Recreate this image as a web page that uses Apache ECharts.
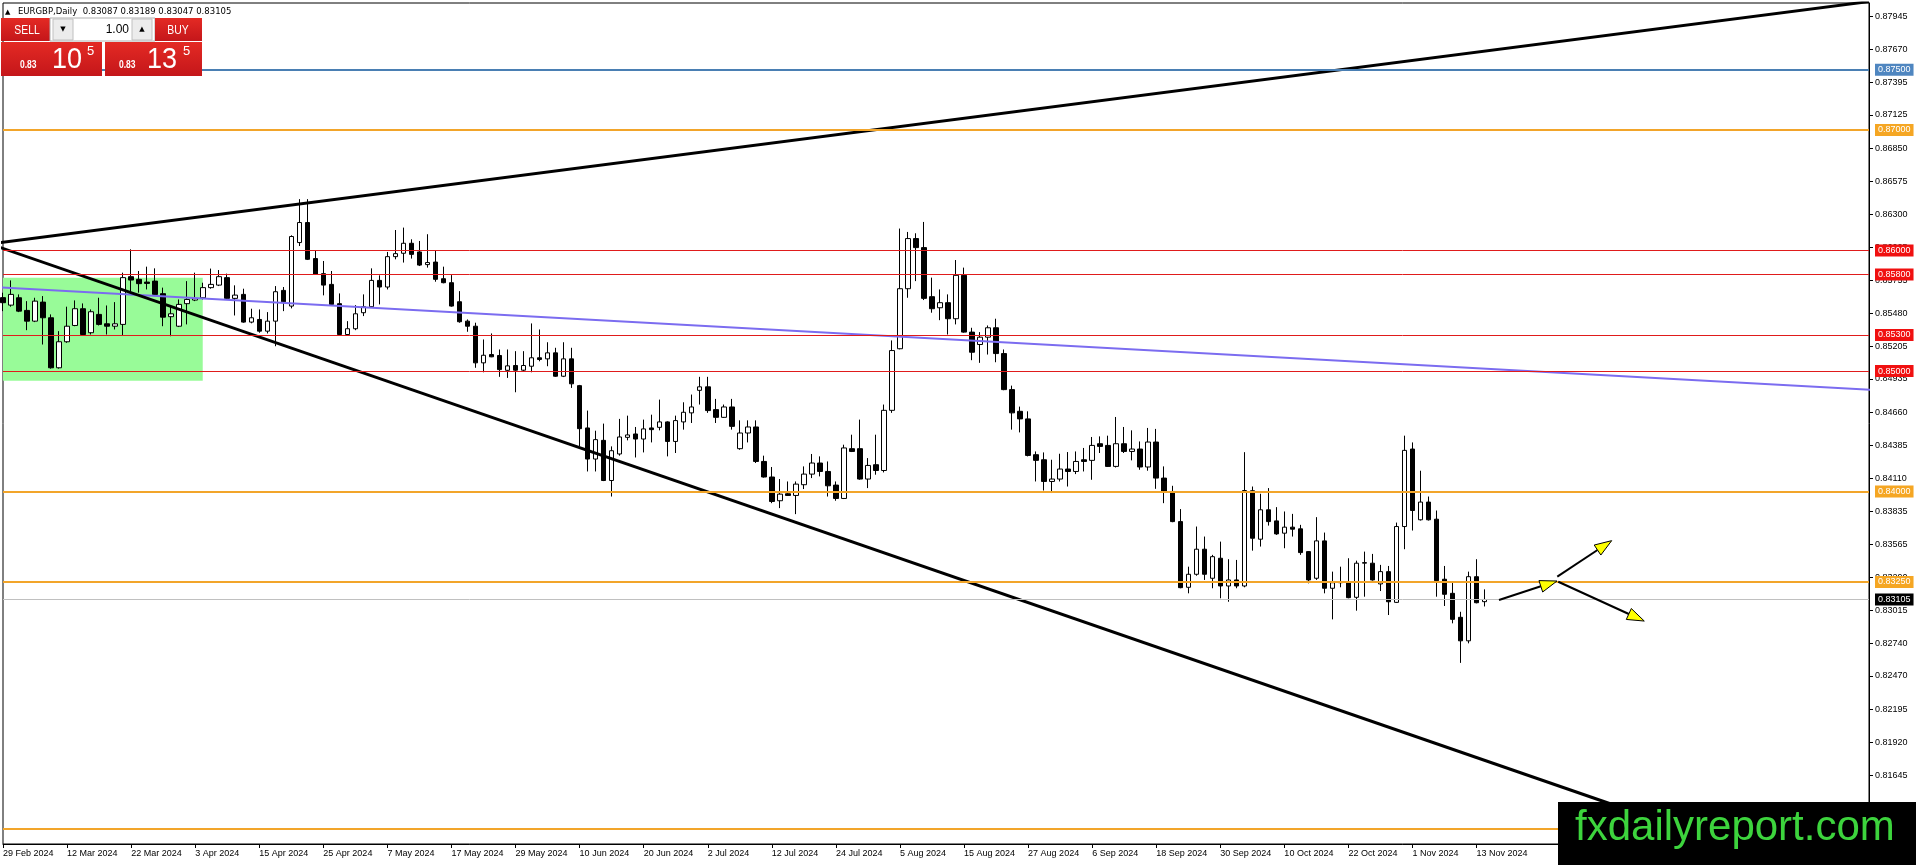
<!DOCTYPE html>
<html><head><meta charset="utf-8">
<script src="https://cdn.jsdelivr.net/npm/echarts@6/dist/echarts.min.js"></script>
<style>html,body{margin:0;padding:0;background:#fff;overflow:hidden}#c{width:1916px;height:865px}</style>
</head><body><div id="c"></div>
<script>
const tickLabels = ['29 Feb 2024','12 Mar 2024','22 Mar 2024','3 Apr 2024','15 Apr 2024','25 Apr 2024','7 May 2024','17 May 2024','29 May 2024','10 Jun 2024','20 Jun 2024','2 Jul 2024','12 Jul 2024','24 Jul 2024','5 Aug 2024','15 Aug 2024','27 Aug 2024','6 Sep 2024','18 Sep 2024','30 Sep 2024','10 Oct 2024','22 Oct 2024','1 Nov 2024','13 Nov 2024'];
const yTickValues = [0.87945,0.87670,0.87395,0.87125,0.86850,0.86575,0.86300,0.86025,0.85755,0.85480,0.85205,0.84935,0.84660,0.84385,0.84110,0.83835,0.83565,0.83290,0.83015,0.82740,0.82470,0.82195,0.81920,0.81645,0.81370];

const opens = [0.85609,0.85547,0.85608,0.85503,0.85414,0.85572,0.85442,0.85027,0.85243,0.85378,
0.85517,0.85318,0.85470,0.85392,0.85372,0.85387,0.85783,0.85761,0.85738,0.85746,
0.85642,0.85451,0.85372,0.85559,0.85589,0.85608,0.85692,0.85713,0.85775,0.85603,
0.85636,0.85406,0.85428,0.85331,0.85414,0.85669,0.85539,0.86066,0.86232,0.85933,
0.85808,0.85719,0.85559,0.85303,0.85351,0.85484,0.85534,0.85752,0.85697,0.85949,
0.85977,0.86060,0.85988,0.85883,0.85904,0.85766,0.85733,0.85575,0.85414,0.85372,
0.85068,0.85137,0.85129,0.85006,0.85046,0.85007,0.85040,0.85110,0.85101,0.85151,
0.84957,0.85101,0.84879,0.84528,0.84270,0.84425,0.84092,0.84312,0.84450,0.84478,
0.84436,0.84528,0.84533,0.84578,0.84416,0.84578,0.84653,0.84840,0.84869,0.84680,
0.84616,0.84702,0.84356,0.84486,0.84536,0.84250,0.84121,0.83924,0.83982,0.83968,
0.84057,0.84145,0.84237,0.84167,0.84054,0.83943,0.84356,0.84356,0.84104,0.84223,
0.84175,0.84674,0.85185,0.85683,0.86099,0.86024,0.85617,0.85525,0.85567,0.85434,
0.85794,0.85323,0.85220,0.85281,0.85359,0.85145,0.84846,0.84666,0.84603,0.84306,
0.84264,0.84084,0.84104,0.84187,0.84167,0.84264,0.84259,0.84397,0.84383,0.84209,
0.84397,0.84333,0.84353,0.84204,0.84411,0.84112,0.83993,0.83751,0.83206,0.83314,
0.83522,0.83281,0.83447,0.83217,0.83267,0.83217,0.84007,0.83605,0.83849,0.83757,
0.83655,0.83705,0.83691,0.83502,0.83281,0.83591,0.83198,0.83244,0.83244,0.83123,
0.83406,0.83406,0.83234,0.83336,0.83081,0.83710,0.84353,0.83766,0.83913,0.83771,
0.83273,0.83156,0.82957,0.82762,0.83294,0.83087];

const highs = [0.85650,0.85752,0.85636,0.85580,0.85608,0.85622,0.85470,0.85331,0.85534,0.85586,
0.85561,0.85511,0.85608,0.85544,0.85572,0.85816,0.86010,0.85830,0.85866,0.85852,
0.85692,0.85539,0.85594,0.85746,0.85816,0.85733,0.85850,0.85838,0.85808,0.85711,
0.85683,0.85517,0.85511,0.85489,0.85705,0.85697,0.86126,0.86426,0.86426,0.85996,
0.85913,0.85830,0.85644,0.85414,0.85547,0.85636,0.85852,0.85794,0.85988,0.86170,
0.86190,0.86093,0.86079,0.86135,0.85996,0.85866,0.85796,0.85663,0.85428,0.85401,
0.85262,0.85312,0.85179,0.85179,0.85165,0.85165,0.85395,0.85345,0.85239,0.85193,
0.85239,0.85193,0.84885,0.84672,0.84505,0.84564,0.84375,0.84603,0.84630,0.84536,
0.84597,0.84638,0.84763,0.84583,0.84630,0.84741,0.84805,0.84952,0.84952,0.84769,
0.84722,0.84769,0.84591,0.84591,0.84591,0.84298,0.84204,0.84104,0.84084,0.84084,
0.84209,0.84312,0.84292,0.84250,0.84084,0.84389,0.84472,0.84597,0.84278,0.84472,
0.84722,0.85254,0.86182,0.86154,0.86143,0.86237,0.85775,0.85677,0.85636,0.85921,
0.85858,0.85359,0.85323,0.85378,0.85434,0.85179,0.84879,0.84705,0.84666,0.84333,
0.84325,0.84264,0.84314,0.84328,0.84333,0.84362,0.84453,0.84458,0.84464,0.84619,
0.84536,0.84508,0.84416,0.84528,0.84520,0.84209,0.84048,0.83855,0.83377,0.83710,
0.83627,0.83475,0.83585,0.83439,0.83433,0.84327,0.84042,0.83982,0.84029,0.83871,
0.83835,0.83815,0.83724,0.83507,0.83788,0.83660,0.83336,0.83377,0.83447,0.83427,
0.83502,0.83483,0.83392,0.83383,0.83743,0.84464,0.84408,0.84173,0.83959,0.83843,
0.83383,0.83244,0.83003,0.83336,0.83439,0.83189];

const lows = [0.85497,0.85534,0.85489,0.85339,0.85406,0.85220,0.85020,0.85020,0.85234,0.85372,
0.85295,0.85303,0.85378,0.85303,0.85345,0.85295,0.85663,0.85650,0.85677,0.85622,
0.85372,0.85289,0.85365,0.85387,0.85580,0.85594,0.85683,0.85705,0.85598,0.85461,
0.85401,0.85396,0.85318,0.85312,0.85206,0.85497,0.85520,0.86037,0.85921,0.85797,
0.85628,0.85548,0.85298,0.85295,0.85339,0.85456,0.85525,0.85553,0.85677,0.85927,
0.85900,0.85933,0.85871,0.85858,0.85741,0.85728,0.85534,0.85401,0.85326,0.85027,
0.84990,0.85115,0.84952,0.84943,0.84824,0.85000,0.84990,0.85081,0.85040,0.84952,
0.84950,0.84860,0.84375,0.84167,0.84167,0.84087,0.83959,0.84298,0.84425,0.84283,
0.84325,0.84408,0.84508,0.84292,0.84320,0.84514,0.84569,0.84722,0.84653,0.84569,
0.84611,0.84514,0.84347,0.84408,0.84237,0.84116,0.83904,0.83863,0.83965,0.83813,
0.84021,0.84112,0.84126,0.83959,0.83924,0.83938,0.84328,0.84098,0.84029,0.84140,
0.84159,0.84653,0.85180,0.85608,0.85746,0.85589,0.85484,0.85422,0.85303,0.85387,
0.85318,0.85090,0.85068,0.85137,0.85073,0.84841,0.84514,0.84491,0.84292,0.84084,
0.84009,0.83988,0.84084,0.84042,0.84145,0.84167,0.84098,0.84320,0.84204,0.84200,
0.84320,0.84259,0.84181,0.84173,0.84023,0.83904,0.83746,0.83198,0.83156,0.83302,
0.83267,0.83198,0.83115,0.83086,0.83198,0.83206,0.83510,0.83544,0.83718,0.83641,
0.83530,0.83627,0.83475,0.83239,0.83267,0.83156,0.82940,0.83206,0.83115,0.83012,
0.83128,0.83261,0.83175,0.82976,0.83076,0.83522,0.83677,0.83760,0.83760,0.83128,
0.83051,0.82907,0.82579,0.82741,0.83073,0.83047];

const closes = [0.85567,0.85636,0.85497,0.85414,0.85580,0.85442,0.85027,0.85243,0.85372,0.85517,
0.85303,0.85492,0.85387,0.85372,0.85392,0.85775,0.85755,0.85725,0.85727,0.85636,
0.85447,0.85475,0.85553,0.85594,0.85603,0.85692,0.85719,0.85783,0.85603,0.85630,
0.85406,0.85442,0.85331,0.85414,0.85658,0.85575,0.86116,0.86232,0.85927,0.85802,
0.85713,0.85553,0.85303,0.85351,0.85475,0.85534,0.85752,0.85697,0.85949,0.85974,
0.86060,0.85968,0.85879,0.85900,0.85761,0.85733,0.85539,0.85409,0.85372,0.85068,
0.85131,0.85118,0.85012,0.85043,0.85007,0.85046,0.85110,0.85096,0.85151,0.84957,
0.85101,0.84894,0.84522,0.84270,0.84431,0.84092,0.84339,0.84453,0.84470,0.84436,
0.84520,0.84514,0.84578,0.84416,0.84589,0.84658,0.84702,0.84869,0.84672,0.84616,
0.84702,0.84541,0.84486,0.84536,0.84250,0.84121,0.83918,0.83979,0.83968,0.84062,
0.84145,0.84237,0.84167,0.84048,0.83943,0.84362,0.84333,0.84104,0.84217,0.84175,
0.84674,0.85170,0.85683,0.86099,0.86024,0.85603,0.85517,0.85567,0.85434,0.85794,
0.85323,0.85156,0.85281,0.85359,0.85145,0.84846,0.84653,0.84603,0.84300,0.84259,
0.84084,0.84104,0.84187,0.84167,0.84250,0.84250,0.84383,0.84375,0.84209,0.84397,
0.84333,0.84353,0.84204,0.84411,0.84112,0.83993,0.83751,0.83203,0.83314,0.83522,
0.83314,0.83460,0.83217,0.83267,0.83217,0.84009,0.83613,0.83849,0.83751,0.83649,
0.83705,0.83688,0.83494,0.83267,0.83591,0.83198,0.83244,0.83252,0.83120,0.83406,
0.83411,0.83267,0.83336,0.83086,0.83710,0.84342,0.83843,0.83913,0.83766,0.83261,
0.83148,0.82940,0.82762,0.83294,0.83078,0.83105];

// horizontal levels
const levelPrices = [0.87500, 0.87000, 0.86000, 0.85800, 0.85300, 0.85000, 0.84000, 0.83250, 0.81200];
const levelKinds  = ['blue','orange','red','red','red','red','orange','orange','orange'];
const bidPrice = 0.83105;
const headerOHLC = [0.83087, 0.83189, 0.83047, 0.83105];

// drawn objects in (bar index, price) space
const upTrend   = [[-1, 0.86060], [233, 0.88065]];
const downTrend = [[-1, 0.86040], [204.4, 0.81325]];
const blueTrend = [[-1, 0.85697], [234, 0.84842]];
const greenZone = [[-0.1, 0.85774], [24.94, 0.84920]];
const arrowSegments = [
  [186.8, 0.83101, 194.04, 0.83258],
  [194.08, 0.83294, 200.87, 0.83593],
  [194.2, 0.83252, 204.94, 0.82926]
];

const categoryCount = 234;
const cats = Array.from({length: categoryCount}, (_, i) => String(i));
const candleData = opens.map((o, i) => [o, closes[i], lows[i], highs[i]]);

const kindStyle = {
  blue:   {line: '#4a7fb3', box: '#4f86c0', width: 2},
  orange: {line: '#f2a52a', box: '#f5a623', width: 2},
  red:    {line: '#e01b1b', box: '#f01010', width: 1}
};
const AXF = '"Liberation Sans", Arial, sans-serif';
const priceLabel = (txt, bg) => ({
  show: true, position: 'end', distance: 6, formatter: txt,
  backgroundColor: bg, color: '#fff', padding: [1, 3, 1, 3],
  fontSize: 9, fontFamily: AXF, lineHeight: 10
});
const markLines = levelPrices.map((p, i) => {
  const s = kindStyle[levelKinds[i]];
  return {yAxis: p, lineStyle: {color: s.line, width: s.width, type: 'solid'}, label: priceLabel(p.toFixed(5), s.box)};
});
markLines.push({yAxis: bidPrice, lineStyle: {color: '#c0c0c0', width: 1, type: 'solid'}, label: priceLabel(bidPrice.toFixed(5), '#000')});

const showTick = (i) => i % 8 === 0 && (i / 8) < tickLabels.length;

const chart = echarts.init(document.getElementById('c'), null, {renderer: 'canvas'});

const redGrad = () => new echarts.graphic.LinearGradient(0, 0, 0, 1, [{offset: 0, color: '#e42a24'}, {offset: 1, color: '#c4161a'}]);
const T = (text, x, y, font, fill, align, scaleX) => ({
  type: 'text', z: 101, x: x, y: y, scaleX: scaleX || 1,
  style: {text: text, x: 0, y: 0, font: font, fill: fill, align: align || 'left', verticalAlign: 'middle', textAlign: align || 'left', textVerticalAlign: 'middle'}
});
const R = (x, y, w, h, fill, stroke) => ({
  type: 'rect', z: 100, shape: {x: x, y: y, width: w, height: h},
  style: {fill: fill, stroke: stroke || null, lineWidth: stroke ? 1 : 0}
});

const graphics = [
  T('\u25B2', 5, 12, '7px "DejaVu Sans"', '#000'),
  T('EURGBP,Daily  ' + headerOHLC.map(v => v.toFixed(5)).join(' '), 18, 12, '8.5px "DejaVu Sans"', '#000'),
  // one-click panel
  R(1, 18, 49, 23, redGrad()),
  R(50, 18, 105, 23, '#ffffff', '#b0b0b0'),
  R(53, 19, 20, 21, '#ececec', '#c0c0c0'),
  R(132, 19, 20, 21, '#ececec', '#c0c0c0'),
  R(155, 18, 47, 23, redGrad()),
  R(1, 42, 101, 34, redGrad()),
  R(105, 42, 97, 34, redGrad()),
  T('SELL', 27, 30, '13px ' + AXF, '#fff', 'center', 0.8),
  T('BUY', 178, 30, '13px ' + AXF, '#fff', 'center', 0.8),
  T('\u25BC', 63, 29, '7px "DejaVu Sans"', '#000', 'center'),
  T('\u25B2', 142, 29, '7px "DejaVu Sans"', '#000', 'center'),
  T('1.00', 129, 30, '12px ' + AXF, '#000', 'right'),
  T('0.83', 20, 65, 'bold 10px ' + AXF, '#fff', 'left', 0.85),
  T('10', 52, 60, '30px ' + AXF, '#fff', 'left', 0.9),
  T('5', 87, 51, '13px ' + AXF, '#fff', 'left'),
  T('0.83', 119, 65, 'bold 10px ' + AXF, '#fff', 'left', 0.85),
  T('13', 147, 60, '30px ' + AXF, '#fff', 'left', 0.9),
  T('5', 183, 51, '13px ' + AXF, '#fff', 'left'),
  // watermark
  R(1558, 802, 358, 63, '#000'),
  T('fxdailyreport.com', 1575, 828, '42px ' + AXF, '#3dd43d', 'left')
];

chart.setOption({
  animation: false,
  backgroundColor: '#fff',
  grid: {left: 3, right: 47, top: 3, bottom: 21, show: true, borderColor: '#000', borderWidth: 1, backgroundColor: '#fff', containLabel: false, outerBoundsMode: 'none'},
  xAxis: [
    {type: 'category', data: cats, boundaryGap: false,
     axisLine: {show: true, onZero: false, lineStyle: {color: '#000', width: 1}},
     axisTick: {show: true, interval: showTick, length: 4, lineStyle: {color: '#000'}},
     axisLabel: {interval: showTick, formatter: (v, i) => showTick(i) ? tickLabels[i / 8] : '', align: 'left', fontSize: 9, fontFamily: AXF, color: '#000', margin: 5},
     splitLine: {show: false}},
    {type: 'value', min: 0, max: categoryCount - 1, show: false, axisLine: {onZero: false}}
  ],
  yAxis: {type: 'value', position: 'right', min: 0.810764, max: 0.880533, scale: true,
    axisLine: {show: true, onZero: false, lineStyle: {color: '#000'}},
    splitLine: {show: false},
    axisTick: {show: true, customValues: yTickValues, length: 4, lineStyle: {color: '#000'}},
    axisLabel: {customValues: yTickValues, formatter: v => v.toFixed(5), fontSize: 9, fontFamily: AXF, color: '#000', margin: 6}
  },
  series: [
    {type: 'candlestick', xAxisIndex: 0, yAxisIndex: 0, z: 2, data: candleData, barWidth: 5,
     itemStyle: {color: '#ffffff', color0: '#000000', borderColor: '#000000', borderColor0: '#000000', borderWidth: 1},
     markLine: {silent: true, precision: 6, symbol: ['none', 'none'], animation: false, data: markLines}},
    {type: 'line', xAxisIndex: 1, yAxisIndex: 0, z: 3, data: blueTrend, symbol: 'none', silent: true,
     lineStyle: {color: '#7b6cf0', width: 2},
     markArea: {silent: true, precision: 6, itemStyle: {color: '#98fb98', opacity: 1}, data: [[{coord: greenZone[0]}, {coord: greenZone[1]}]]}},
    {type: 'line', xAxisIndex: 1, yAxisIndex: 0, z: 4, data: upTrend, symbol: 'none', silent: true, lineStyle: {color: '#000', width: 3}},
    {type: 'line', xAxisIndex: 1, yAxisIndex: 0, z: 4, data: downTrend, symbol: 'none', silent: true, lineStyle: {color: '#000', width: 3}},
    {type: 'custom', xAxisIndex: 1, yAxisIndex: 0, z: 6, silent: true, data: arrowSegments,
     encode: {x: [0, 2], y: [1, 3]},
     renderItem: function (params, api) {
       const p0 = api.coord([api.value(0), api.value(1)]);
       const p1 = api.coord([api.value(2), api.value(3)]);
       const dx = p1[0] - p0[0], dy = p1[1] - p0[1];
       const len = Math.sqrt(dx * dx + dy * dy) || 1;
       const ux = dx / len, uy = dy / len;
       const hl = 17, hw = 6;
       const b = [p1[0] - ux * hl, p1[1] - uy * hl];
       const l = [b[0] - uy * hw, b[1] + ux * hw];
       const r = [b[0] + uy * hw, b[1] - ux * hw];
       return {type: 'group', children: [
         {type: 'line', shape: {x1: p0[0], y1: p0[1], x2: b[0], y2: b[1]}, style: {stroke: '#000', lineWidth: 2}},
         {type: 'polygon', shape: {points: [p1, l, r]}, style: {fill: '#ffff00', stroke: '#000', lineWidth: 1}}
       ]};
     }}
  ],
  graphic: graphics
});
</script>
</body></html>
